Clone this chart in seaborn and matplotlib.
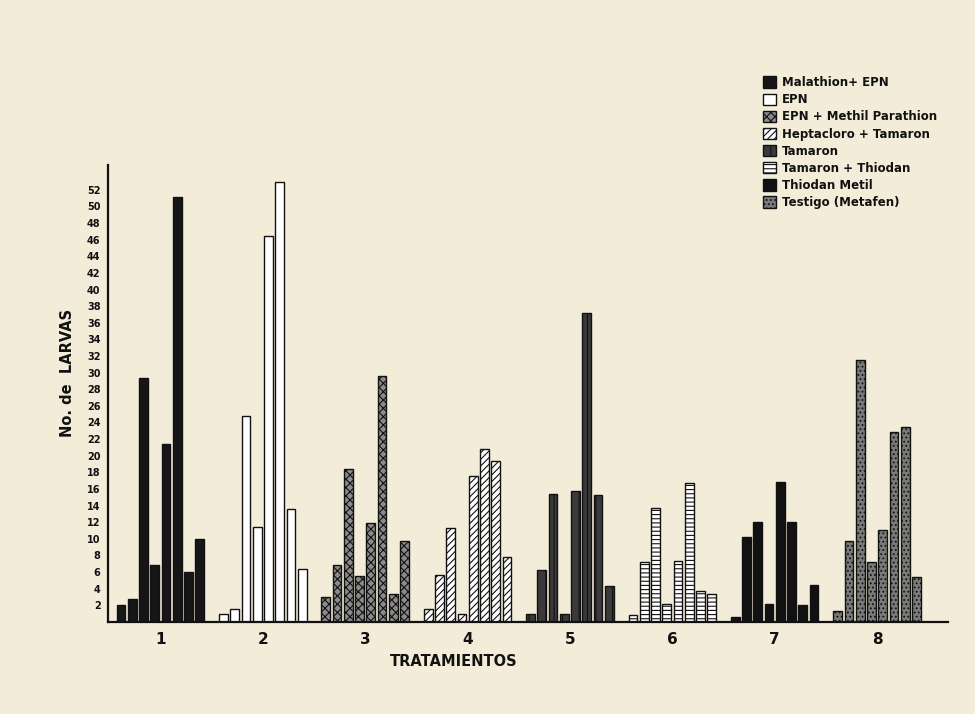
import matplotlib
matplotlib.use("Agg")
import matplotlib.pyplot as plt
from matplotlib.patches import Patch
import seaborn as sns
import pandas as pd

tratamientos = ["1", "2", "3", "4", "5", "6", "7", "8"]
muestras = ["m1", "m2", "m3", "m4", "m5", "m6", "m7", "m8"]

# larvae per sampling (8 per treatment)
larvas_t1 = [2.0, 2.7, 29.4, 6.9, 21.4, 51.1, 6.0, 10.0]
larvas_t2 = [1.0, 1.5, 24.8, 11.4, 46.4, 53.0, 13.6, 6.4]
larvas_t3 = [3.0, 6.9, 18.4, 5.5, 11.9, 29.6, 3.3, 9.7]
larvas_t4 = [1.5, 5.6, 11.3, 0.9, 17.6, 20.8, 19.4, 7.8]
larvas_t5 = [0.9, 6.3, 15.4, 0.9, 15.7, 37.2, 15.3, 4.3]
larvas_t6 = [0.8, 7.2, 13.7, 2.2, 7.3, 16.7, 3.7, 3.3]
larvas_t7 = [0.6, 10.2, 12.0, 2.2, 16.8, 12.0, 2.0, 4.4]
larvas_t8 = [1.3, 9.7, 31.5, 7.2, 11.1, 22.9, 23.4, 5.4]

leyenda = ["Malathion+ EPN", "EPN", "EPN + Methil Parathion",
           "Heptacloro + Tamaron", "Tamaron", "Tamaron + Thiodan",
           "Thiodan Metil", "Testigo (Metafen)"]

valores = [larvas_t1, larvas_t2, larvas_t3, larvas_t4,
           larvas_t5, larvas_t6, larvas_t7, larvas_t8]
rows = []
for t, vals in zip(tratamientos, valores):
    for m, v in zip(muestras, vals):
        rows.append({"tratamiento": t, "muestra": m, "larvas": v})
df = pd.DataFrame(rows)

# style per treatment: (face, hatch)
estilos = [
    ("#161616", None),
    ("#ffffff", None),
    ("#8a8a8a", "xxxx"),
    ("#ffffff", "/////"),
    ("#3a3a3a", "||"),
    ("#ffffff", "----"),
    ("#111111", None),
    ("#7a7a7a", "...."),
]

sns.set_style("white")
plt.rcParams["font.family"] = ["DejaVu Sans"]
plt.rcParams["hatch.linewidth"] = 0.8
for k in ["text.color", "axes.labelcolor", "xtick.color", "ytick.color"]:
    plt.rcParams[k] = "#111111"
bg = "#f3ecd8"

fig = plt.figure(figsize=(9.75, 7.14), dpi=100, facecolor=bg)
ax = fig.add_axes([0.111, 0.129, 0.861, 0.640])
ax.set_facecolor(bg)

sns.barplot(data=df, x="tratamiento", y="larvas", hue="muestra",
            order=tratamientos, hue_order=muestras, width=0.88, gap=0.22,
            legend=False, ax=ax, errorbar=None)

for cont in ax.containers:
    for i, bar in enumerate(cont):
        face, hatch = estilos[i]
        bar.set_facecolor(face)
        bar.set_edgecolor("#111111")
        bar.set_linewidth(1.0)
        if hatch:
            bar.set_hatch(hatch)

ax.set_xlim(-0.51, 7.69)
ax.set_ylim(0, 55)
ax.set_yticks(list(range(2, 53, 2)))
ax.set_yticklabels([str(v) for v in range(2, 53, 2)], fontsize=7, fontweight="bold")
ax.tick_params(axis="y", direction="inout", length=7, width=1.2, pad=2, colors="#111111")
ax.tick_params(axis="x", length=0, pad=7, labelsize=11, colors="#111111")
for lab in ax.get_xticklabels():
    lab.set_fontweight("bold")

for s in ["top", "right"]:
    ax.spines[s].set_visible(False)
for s in ["left", "bottom"]:
    ax.spines[s].set_color("#111111")
    ax.spines[s].set_linewidth(1.6)

ax.set_xlabel("TRATAMIENTOS", fontsize=10.5, fontweight="bold", labelpad=4)
ax.xaxis.set_label_coords(0.412, -0.07)
ax.set_ylabel("No. de  LARVAS", fontsize=10.5, fontweight="bold", labelpad=8)
ax.yaxis.set_label_coords(-0.04, 0.545)

handles = [Patch(facecolor=f, edgecolor="#111111", hatch=h, linewidth=1.0)
           for f, h in estilos]
leg = fig.legend(handles, leyenda, loc="upper left",
                 bbox_to_anchor=(0.778, 0.9), frameon=False,
                 prop={"size": 8.5, "weight": "bold"},
                 handlelength=1.1, handleheight=1.1, handletextpad=0.5,
                 labelspacing=0.35, borderaxespad=0)
for t in leg.get_texts():
    t.set_color("#111111")

fig.savefig("out.png", dpi=100, facecolor=bg)
